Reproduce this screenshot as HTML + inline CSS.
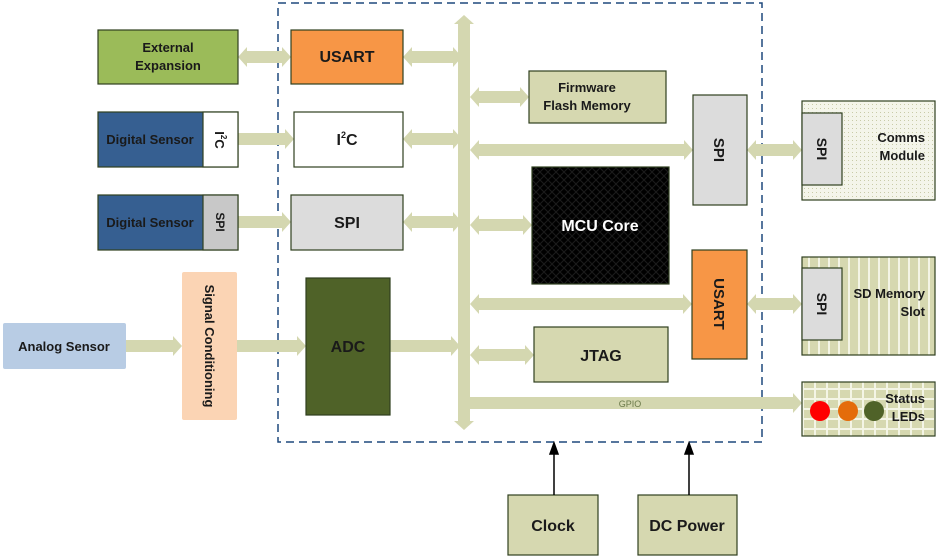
<!DOCTYPE html>
<html><head><meta charset="utf-8"><style>
html,body{margin:0;padding:0;background:#fff;}
svg{display:block;}
text{font-family:"Liberation Sans",sans-serif;font-weight:bold;}
</style></head><body>
<svg width="938" height="559" viewBox="0 0 938 559" xmlns="http://www.w3.org/2000/svg">
<defs>
<pattern id="dots" width="4" height="4" patternUnits="userSpaceOnUse"><rect width="4" height="4" fill="#f4f5ea"/><rect width="1" height="1" fill="#c9cba8"/></pattern>
<pattern id="stripes" width="10" height="10" patternUnits="userSpaceOnUse"><rect width="10" height="10" fill="#d6d8b0"/><rect x="8" width="2" height="10" fill="#f4f5e6"/></pattern>
<pattern id="grid" width="12" height="10" patternUnits="userSpaceOnUse"><rect width="12" height="10" fill="#d6d8b0"/><rect x="10" width="2" height="10" fill="#f4f5e6"/><rect y="8" width="12" height="2" fill="#f4f5e6"/></pattern>
<pattern id="xh" width="8" height="8" patternUnits="userSpaceOnUse"><rect width="8" height="8" fill="#000"/><path d="M0 0L8 8M8 0L0 8" stroke="#1c1c1c" stroke-width="1"/></pattern>
</defs>
<rect x="278" y="3" width="484" height="439" fill="none" stroke="#1f497d" stroke-width="1.5" stroke-dasharray="8,5"/>
<g fill="#d4d7b0">
<polygon points="238,57 247,47 247,51 282,51 282,47 291,57 282,67 282,63 247,63 247,67"/>
<polygon points="403,57 412,47 412,51 453,51 453,47 462,57 453,67 453,63 412,63 412,67"/>
<polygon points="238,133 285,133 285,129 294,139 285,149 285,145 238,145"/>
<polygon points="403,139 412,129 412,133 453,133 453,129 462,139 453,149 453,145 412,145 412,149"/>
<polygon points="238,216 282,216 282,212 291,222 282,232 282,228 238,228"/>
<polygon points="403,222 412,212 412,216 453,216 453,212 462,222 453,232 453,228 412,228 412,232"/>
<polygon points="126,340 173,340 173,336 182,346 173,356 173,352 126,352"/>
<polygon points="237,340 297,340 297,336 306,346 297,356 297,352 237,352"/>
<polygon points="390,340 451,340 451,336 460,346 451,356 451,352 390,352"/>
<polygon points="470,97 479,87 479,91 520,91 520,87 529,97 520,107 520,103 479,103 479,107"/>
<polygon points="470,150 479,140 479,144 684,144 684,140 693,150 684,160 684,156 479,156 479,160"/>
<polygon points="470,225 479,215 479,219 523,219 523,215 532,225 523,235 523,231 479,231 479,235"/>
<polygon points="470,304 479,294 479,298 683,298 683,294 692,304 683,314 683,310 479,310 479,314"/>
<polygon points="470,355 479,345 479,349 525,349 525,345 534,355 525,365 525,361 479,361 479,365"/>
<polygon points="747,150 756,140 756,144 793,144 793,140 802,150 793,160 793,156 756,156 756,160"/>
<polygon points="747,304 756,294 756,298 793,298 793,294 802,304 793,314 793,310 756,310 756,314"/>
<polygon points="464,397 793,397 793,393 802,403 793,413 793,409 464,409"/>
<polygon points="464,15 474,24 470,24 470,421 474,421 464,430 454,421 458,421 458,24 454,24"/>
</g>
<text x="630" y="407" font-size="9" font-weight="normal" fill="#6b7a4a" text-anchor="middle" style="font-weight:normal">GPIO</text>

<g stroke="#2f3f1f" stroke-width="1.2">
<rect x="98" y="30" width="140" height="54" fill="#9bbb59"/>
<rect x="291" y="30" width="112" height="54" fill="#f79646"/>
<rect x="98" y="112" width="140" height="55" fill="#365f91"/>
<rect x="203" y="112" width="35" height="55" fill="#fff"/>
<rect x="294" y="112" width="109" height="55" fill="#fff"/>
<rect x="98" y="195" width="140" height="55" fill="#365f91"/>
<rect x="203" y="195" width="35" height="55" fill="#c8c8c8"/>
<rect x="291" y="195" width="112" height="55" fill="#dcdcdc"/>
<rect x="306" y="278" width="84" height="137" fill="#4f6228"/>
<rect x="529" y="71" width="137" height="52" fill="#d6d8b0"/>
<rect x="693" y="95" width="54" height="110" fill="#dcdcdc"/>
<rect x="532" y="167" width="137" height="117" fill="url(#xh)"/>
<rect x="692" y="250" width="55" height="109" fill="#f79646"/>
<rect x="534" y="327" width="134" height="55" fill="#d6d8b0"/>
<rect x="802" y="101" width="133" height="99" fill="url(#dots)"/>
<rect x="802" y="113" width="40" height="72" fill="#dcdcdc"/>
<rect x="802" y="257" width="133" height="98" fill="url(#stripes)"/>
<rect x="802" y="268" width="40" height="72" fill="#dcdcdc"/>
<rect x="802" y="382" width="133" height="54" fill="url(#grid)"/>
<rect x="508" y="495" width="90" height="60" fill="#d6d8b0"/>
<rect x="638" y="495" width="99" height="60" fill="#d6d8b0"/>
</g>
<rect x="182" y="272" width="55" height="148" fill="#fbd4b4" rx="2"/>
<rect x="3" y="323" width="123" height="46" fill="#b8cce4" rx="2"/>
<circle cx="820" cy="411" r="10" fill="#ff0000"/>
<circle cx="848" cy="411" r="10" fill="#e46c0a"/>
<circle cx="874" cy="411" r="10" fill="#4f6228"/>

<g stroke="#000" stroke-width="1.5" fill="#000">
<line x1="554" y1="495" x2="554" y2="452"/><polygon points="554,443 550,454 558,454"/>
<line x1="689" y1="495" x2="689" y2="452"/><polygon points="689,443 685,454 693,454"/>
</g>

<g font-size="13" fill="#1a1a1a" text-anchor="middle">
<text x="168" y="52">External</text>
<text x="168" y="70">Expansion</text>
<text x="150" y="144">Digital Sensor</text>
<text x="150" y="227">Digital Sensor</text>
<text x="64" y="351">Analog Sensor</text>
<text x="587" y="92">Firmware</text>
<text x="587" y="110">Flash Memory</text>
<text x="347" y="62" font-size="16">USART</text>
<text x="347" y="145" font-size="16">I<tspan font-size="9" dy="-7">2</tspan><tspan dy="7">C</tspan></text>
<text x="347" y="228" font-size="16">SPI</text>
<text x="348" y="352" font-size="16">ADC</text>
<text x="601" y="361" font-size="16">JTAG</text>
<text x="553" y="531" font-size="16">Clock</text>
<text x="687" y="531" font-size="16">DC Power</text>
<text x="600" y="231" font-size="16" fill="#fff">MCU Core</text>
<text x="925" y="142" text-anchor="end">Comms</text>
<text x="925" y="160" text-anchor="end">Module</text>
<text x="925" y="298" text-anchor="end">SD Memory</text>
<text x="925" y="316" text-anchor="end">Slot</text>
<text x="925" y="403" text-anchor="end">Status</text>
<text x="925" y="421" text-anchor="end">LEDs</text>
<text transform="translate(215,140) rotate(90)" font-size="13">I<tspan font-size="8" dy="-6">2</tspan><tspan dy="6">C</tspan></text>
<text transform="translate(216,222) rotate(90)" font-size="12">SPI</text>
<text transform="translate(205,346) rotate(90)" font-size="13">Signal Conditioning</text>
<text transform="translate(714,150) rotate(90)" font-size="15">SPI</text>
<text transform="translate(714,304) rotate(90)" font-size="15">USART</text>
<text transform="translate(817,149) rotate(90)" font-size="14">SPI</text>
<text transform="translate(817,304) rotate(90)" font-size="14">SPI</text>
</g>
</svg>
</body></html>
